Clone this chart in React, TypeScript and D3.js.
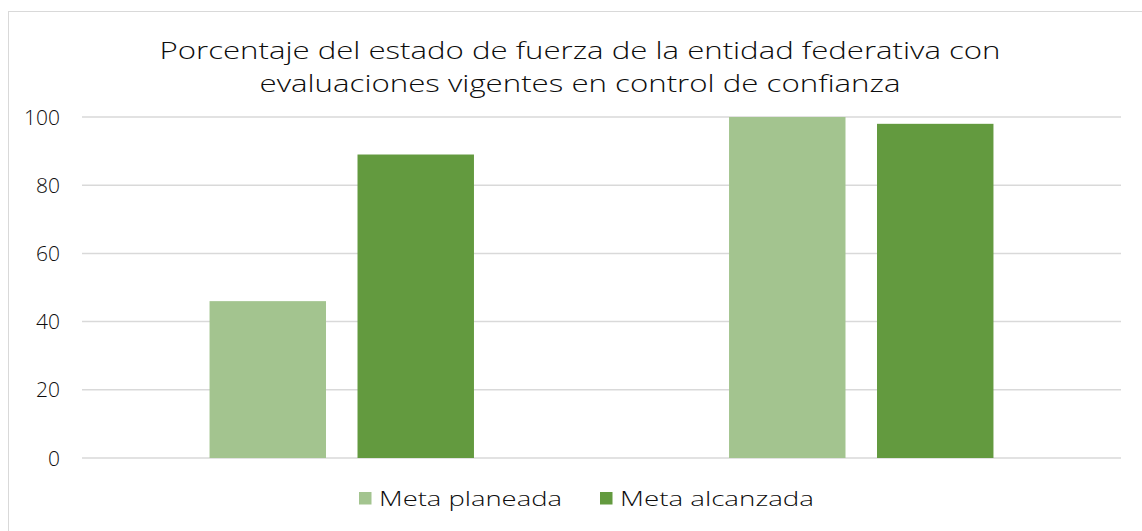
import * as d3 from "d3";
import { useEffect, useRef } from "react";

const categories = ["Grupo 1", "Grupo 2"];
const seriesNames = ["Meta planeada", "Meta alcanzada"];
const metaPlaneada = [46, 100];
const metaAlcanzada = [89, 98];
const yTicks = [0, 20, 40, 60, 80, 100];
const titleLines = [
  "Porcentaje del estado de fuerza de la entidad federativa con",
  "evaluaciones vigentes en control de confianza",
];

const colors = ["#A3C48F", "#639A3F"];
const FONT = "'Open Sans', 'DejaVu Sans', sans-serif";
const TEXT = "#0d0d0d";

export default function App() {
  const ref = useRef<SVGSVGElement | null>(null);

  useEffect(() => {
    const el = ref.current;
    if (!el) return;
    const width = 1142;
    const height = 531;
    const svg = d3.select(el);
    svg.selectAll("*").remove();
    svg.attr("width", width).attr("height", height).attr("viewBox", `0 0 ${width} ${height}`);

    const margin = { top: 117, right: 21, bottom: 73, left: 82 };

    svg.append("rect").attr("width", width).attr("height", height).attr("fill", "#fff");

    // chart frame (cropped at right/bottom)
    svg
      .append("rect")
      .attr("x", 8.5)
      .attr("y", 11.5)
      .attr("width", width + 20)
      .attr("height", height + 20)
      .attr("fill", "none")
      .attr("stroke", "#D9D9D9")
      .attr("stroke-width", 1);

    const titleW = [841, 641];
    const titleY = [59, 92];
    titleLines.forEach((t, i) => {
      svg
        .append("text")
        .attr("x", 580)
        .attr("y", titleY[i])
        .attr("text-anchor", "middle")
        .attr("font-family", FONT)
        .attr("font-size", 24)
        .attr("font-weight", 300)
        .attr("fill", TEXT)
        .attr("textLength", titleW[i])
        .attr("lengthAdjust", "spacingAndGlyphs")
        .text(t);
    });

    const x0 = d3
      .scaleBand<string>()
      .domain(categories)
      .range([margin.left, width - margin.right])
      .paddingInner(0.491)
      .paddingOuter(0.2455);

    const x1 = d3
      .scaleBand<string>()
      .domain(seriesNames)
      .range([0, x0.bandwidth()])
      .paddingInner(0.213)
      .paddingOuter(0);

    const y = d3
      .scaleLinear()
      .domain([0, 100])
      .range([height - margin.bottom, margin.top]);

    const grid = svg.append("g");
    grid
      .selectAll("line")
      .data(yTicks)
      .enter()
      .append("line")
      .attr("x1", margin.left)
      .attr("x2", width - margin.right)
      .attr("y1", (d) => y(d))
      .attr("y2", (d) => y(d))
      .attr("stroke", "#D9D9D9")
      .attr("stroke-width", 1.5);

    svg
      .append("g")
      .selectAll("text")
      .data(yTicks)
      .enter()
      .append("text")
      .attr("x", 60)
      .attr("y", (d) => y(d))
      .attr("dy", "0.36em")
      .attr("text-anchor", "end")
      .attr("font-family", FONT)
      .attr("font-size", 21)
      .attr("font-weight", 300)
      .attr("fill", TEXT)
      .text((d) => String(d));

    const series = [metaPlaneada, metaAlcanzada];
    const rows = categories.flatMap((c, ci) =>
      seriesNames.map((s, si) => ({ c, s, si, v: series[si][ci] }))
    );

    svg
      .append("g")
      .selectAll("rect")
      .data(rows)
      .enter()
      .append("rect")
      .attr("x", (d) => (x0(d.c) ?? 0) + (x1(d.s) ?? 0))
      .attr("y", (d) => y(d.v))
      .attr("width", x1.bandwidth())
      .attr("height", (d) => y(0) - y(d.v))
      .attr("fill", (d) => colors[d.si]);

    const legendX = [359, 600];
    const legendW = [183, 194];
    const lg = svg.append("g");
    seriesNames.forEach((s, i) => {
      lg.append("rect")
        .attr("x", legendX[i])
        .attr("y", 492)
        .attr("width", 12.5)
        .attr("height", 12.5)
        .attr("fill", colors[i]);
      lg.append("text")
        .attr("x", legendX[i] + 20)
        .attr("y", 506)
        .attr("font-family", FONT)
        .attr("font-size", 20)
        .attr("font-weight", 300)
        .attr("fill", TEXT)
        .attr("textLength", legendW[i])
        .attr("lengthAdjust", "spacingAndGlyphs")
        .text(s);
    });
  }, []);

  return (
    <svg
      ref={ref}
      style={{ position: "absolute", left: 0, top: 0, display: "block" }}
    />
  );
}
